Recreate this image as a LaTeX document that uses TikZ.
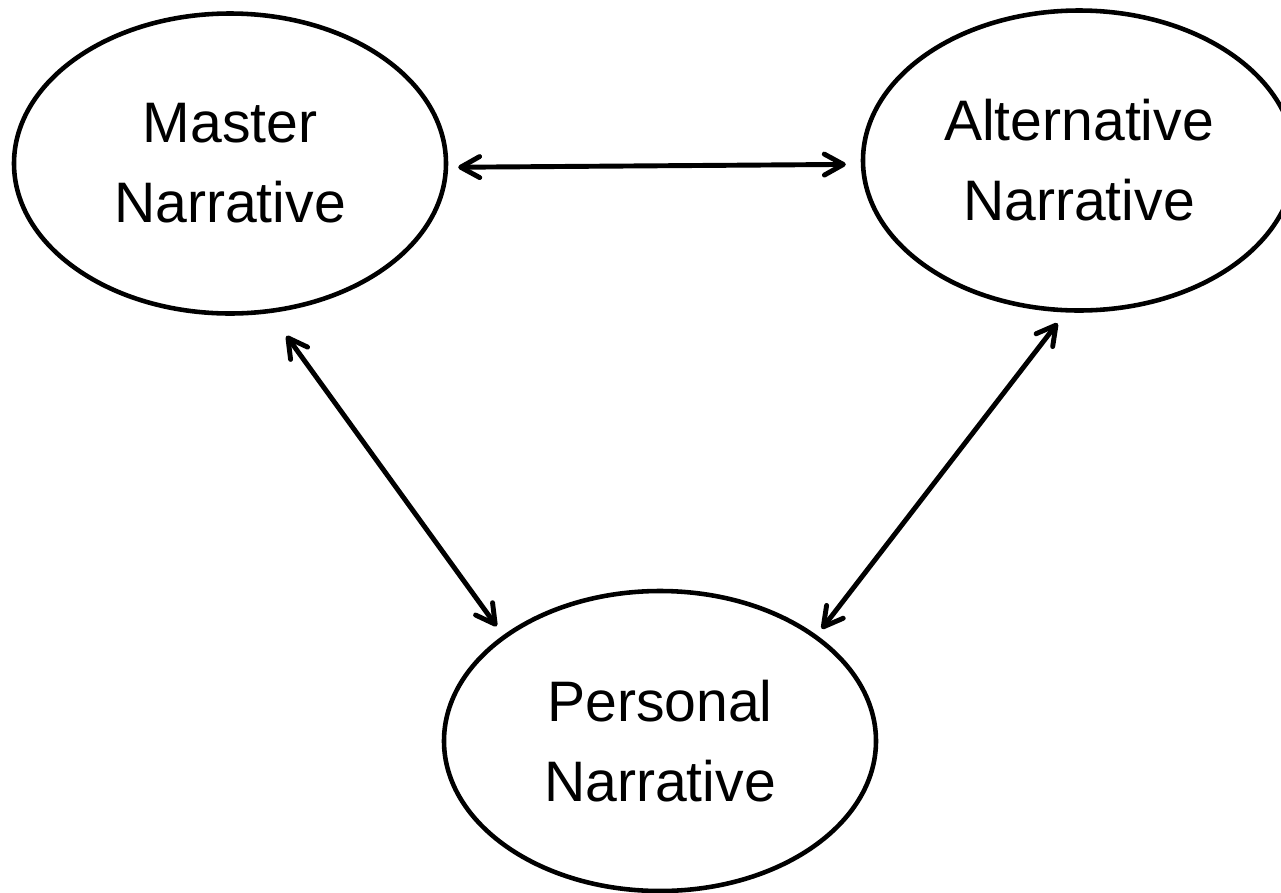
\documentclass[tikz,border=0pt]{standalone}
\usepackage{fontspec}
\setmainfont{Liberation Sans}
\usetikzlibrary{arrows.meta}
\usetikzlibrary{shapes.geometric}
\tikzset{
  oval/.style={
    ellipse, draw=black, line width=2.6pt,
    minimum width=8.64cm, minimum height=6.0cm,
    align=center, font=\fontsize{32.5pt}{45.5pt}\selectfont, inner sep=2pt
  },
  link/.style={{Straight Barb[round,length=0.38cm,width=0.42cm]}-{Straight Barb[round,length=0.38cm,width=0.42cm]},
    line width=2.8pt, draw=black}
}

\begin{document}
\begin{tikzpicture}
  \useasboundingbox (0,0) rectangle (25.62,-17.86);

  \node[oval] (master) at (4.6,-3.27) {Master\\Narrative};
  \node[oval] (alt) at (21.58,-3.21) {Alternative\\Narrative};
  \node[oval] (pers) at (13.2,-14.82) {Personal\\Narrative};

  \draw[link, shorten <=0.2cm, shorten >=0.3cm] (master.-1) -- (alt.181.5);
  \draw[link, shorten <=0.56cm, shorten >=0.22cm] (master.-75.1) -- (pers.146.7);
  \draw[link, shorten <=0.27cm, shorten >=0.16cm] (alt.265.3) -- (pers.34);
\end{tikzpicture}
\end{document}
